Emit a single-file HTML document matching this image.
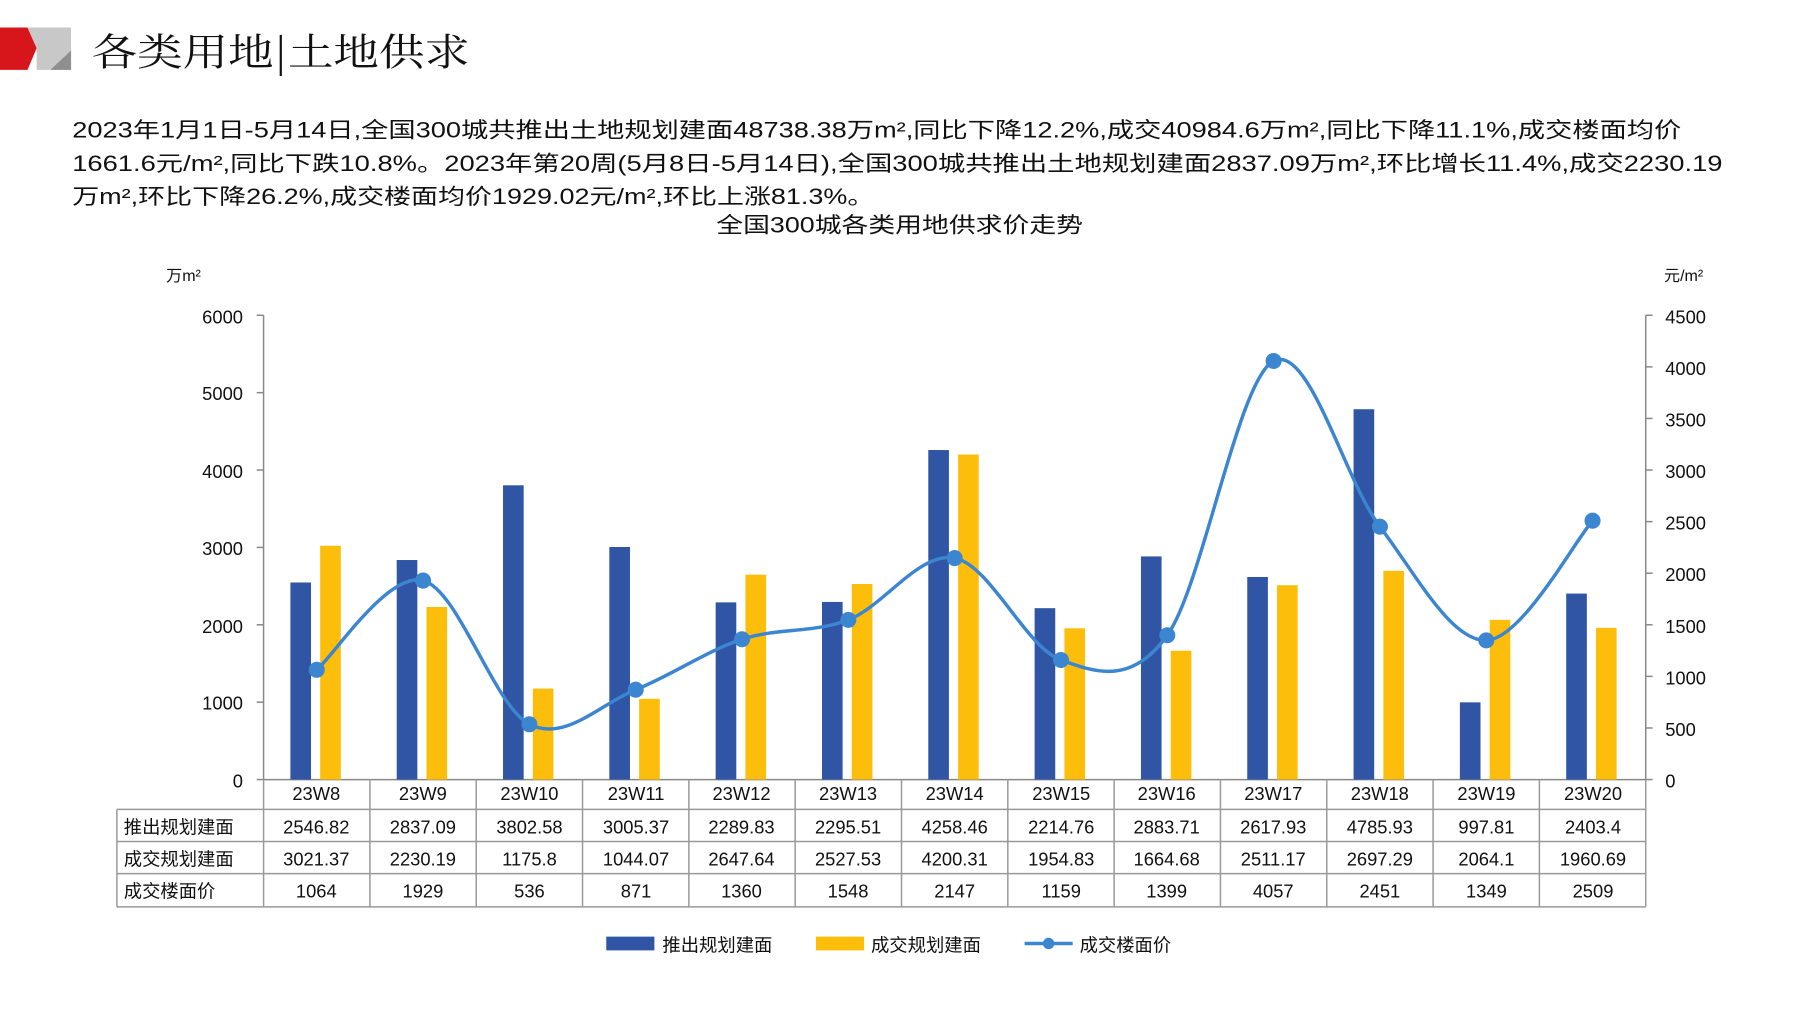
<!DOCTYPE html>
<html><head><meta charset="utf-8">
<style>
html,body{margin:0;padding:0;background:#fff;}
svg{display:block;}
text{font-family:"Liberation Sans","Noto Sans CJK SC",sans-serif;fill:#111;}
.cjk{font-family:"Noto Serif CJK SC","Noto Sans CJK SC",serif;}
</style></head>
<body>
<svg id="s" width="1797" height="1010" viewBox="0 0 1568 881" preserveAspectRatio="none" xmlns="http://www.w3.org/2000/svg">
<!-- header -->
<polygon points="0,24 24,24 32,42 24,61 0,61" fill="#d7161b"/>
<polygon points="24,24 62,24 62,61 32,61 32,42" fill="#c8c8c8"/>
<polygon points="44,61 62,44 62,61" fill="#8f8f8f"/>
<text x="80" y="57" class="cjk" font-size="33" textLength="330" lengthAdjust="spacingAndGlyphs">各类用地|土地供求</text>
<!-- paragraph -->
<g font-size="19">
<text x="63" y="120" textLength="1404" lengthAdjust="spacingAndGlyphs">2023年1月1日-5月14日,全国300城共推出土地规划建面48738.38万m²,同比下降12.2%,成交40984.6万m²,同比下降11.1%,成交楼面均价</text>
<text x="63" y="149" textLength="1440" lengthAdjust="spacingAndGlyphs">1661.6元/m²,同比下跌10.8%。2023年第20周(5月8日-5月14日),全国300城共推出土地规划建面2837.09万m²,环比增长11.4%,成交2230.19</text>
<text x="63" y="178" textLength="700" lengthAdjust="spacingAndGlyphs">万m²,环比下降26.2%,成交楼面均价1929.02元/m²,环比上涨81.3%。</text>
</g>
<text x="785" y="203" font-size="19" text-anchor="middle" textLength="320" lengthAdjust="spacingAndGlyphs">全国300城各类用地供求价走势</text>
<text x="145" y="245" font-size="14">万m²</text>
<text x="1452" y="245" font-size="14">元/m²</text>
<!-- axes -->
<g stroke="#888" stroke-width="1.3">
<line x1="230" y1="275" x2="230" y2="680"/>
<line x1="1436" y1="275" x2="1436" y2="680"/>
<line x1="230" y1="680" x2="1436" y2="680"/>
</g>
<g id="ticks" stroke="#888" stroke-width="1.3"></g>
<g font-size="16" text-anchor="end">
<text x="212" y="282">6000</text><text x="212" y="349">5000</text><text x="212" y="417">4000</text>
<text x="212" y="484">3000</text><text x="212" y="552">2000</text><text x="212" y="619">1000</text><text x="212" y="687">0</text>
</g>
<g font-size="16">
<text x="1453" y="282">4500</text><text x="1453" y="327">4000</text><text x="1453" y="372">3500</text>
<text x="1453" y="417">3000</text><text x="1453" y="462">2500</text><text x="1453" y="507">2000</text>
<text x="1453" y="552">1500</text><text x="1453" y="597">1000</text><text x="1453" y="642">500</text><text x="1453" y="687">0</text>
</g>
<g id="bars"></g>
<path id="line" fill="none" stroke="#3c85d0" stroke-width="3"/>
<g id="dots"></g>
<!-- table -->
<g id="grid" stroke="#999" stroke-width="1.3" fill="none"></g>
<g font-size="16" text-anchor="middle">
<text x="276" y="698">23W8</text><text x="369" y="698">23W9</text><text x="462" y="698">23W10</text><text x="555" y="698">23W11</text><text x="647" y="698">23W12</text><text x="740" y="698">23W13</text><text x="833" y="698">23W14</text><text x="926" y="698">23W15</text><text x="1018" y="698">23W16</text><text x="1111" y="698">23W17</text><text x="1204" y="698">23W18</text><text x="1297" y="698">23W19</text><text x="1390" y="698">23W20</text>
<text x="276" y="727">2546.82</text><text x="369" y="727">2837.09</text><text x="462" y="727">3802.58</text><text x="555" y="727">3005.37</text><text x="647" y="727">2289.83</text><text x="740" y="727">2295.51</text><text x="833" y="727">4258.46</text><text x="926" y="727">2214.76</text><text x="1018" y="727">2883.71</text><text x="1111" y="727">2617.93</text><text x="1204" y="727">4785.93</text><text x="1297" y="727">997.81</text><text x="1390" y="727">2403.4</text>
<text x="276" y="755">3021.37</text><text x="369" y="755">2230.19</text><text x="462" y="755">1175.8</text><text x="555" y="755">1044.07</text><text x="647" y="755">2647.64</text><text x="740" y="755">2527.53</text><text x="833" y="755">4200.31</text><text x="926" y="755">1954.83</text><text x="1018" y="755">1664.68</text><text x="1111" y="755">2511.17</text><text x="1204" y="755">2697.29</text><text x="1297" y="755">2064.1</text><text x="1390" y="755">1960.69</text>
<text x="276" y="783">1064</text><text x="369" y="783">1929</text><text x="462" y="783">536</text><text x="555" y="783">871</text><text x="647" y="783">1360</text><text x="740" y="783">1548</text><text x="833" y="783">2147</text><text x="926" y="783">1159</text><text x="1018" y="783">1399</text><text x="1111" y="783">4057</text><text x="1204" y="783">2451</text><text x="1297" y="783">1349</text><text x="1390" y="783">2509</text>
</g>
<g font-size="16">
<text x="108" y="727">推出规划建面</text>
<text x="108" y="755">成交规划建面</text>
<text x="108" y="783">成交楼面价</text>
</g>
<!-- legend -->
<rect x="529" y="817" width="42" height="12" fill="#2f55a4"/>
<text x="578" y="830" font-size="16">推出规划建面</text>
<rect x="712" y="817" width="42" height="12" fill="#fcbe0a"/>
<text x="760" y="830" font-size="16">成交规划建面</text>
<line x1="894" y1="823" x2="936" y2="823" stroke="#3c85d0" stroke-width="3"/>
<circle cx="915" cy="823" r="5" fill="#3c85d0"/>
<text x="942" y="830" font-size="16">成交楼面价</text>
</svg>
<script>
(function(){
var NS="http://www.w3.org/2000/svg";
function el(t,a,p){var e=document.createElementNS(NS,t);for(var k in a)e.setAttribute(k,a[k]);document.getElementById(p).appendChild(e);}
var A=[2546.82,2837.09,3802.58,3005.37,2289.83,2295.51,4258.46,2214.76,2883.71,2617.93,4785.93,997.81,2403.4];
var B=[3021.37,2230.19,1175.8,1044.07,2647.64,2527.53,4200.31,1954.83,1664.68,2511.17,2697.29,2064.1,1960.69];
var P=[1064,1929,536,871,1360,1548,2147,1159,1399,4057,2451,1349,2509];
var w=(1436-230)/13,pts=[];
for(var i=0;i<13;i++){
 var c=230+w*(i+0.5);
 var h=A[i]*405/6000;el("rect",{x:c-23,y:680-h,width:18,height:h,fill:"#2f55a4"},"bars");
 h=B[i]*405/6000;el("rect",{x:c+3,y:680-h,width:18,height:h,fill:"#fcbe0a"},"bars");
 pts.push([c,680-P[i]*405/4500]);
}
for(var j=0;j<=6;j++){var y=680-j*67.5;el("line",{x1:224,y1:y,x2:230,y2:y},"ticks");}
for(j=0;j<=9;j++){var y=680-j*45;el("line",{x1:1436,y1:y,x2:1442,y2:y},"ticks");}
var d="M"+pts[0][0]+","+pts[0][1];
for(i=0;i<12;i++){
 var p0=pts[Math.max(i-1,0)],p1=pts[i],p2=pts[i+1],p3=pts[Math.min(i+2,12)];
 var t=1/6;
 d+=" C"+(p1[0]+(p2[0]-p0[0])*t)+","+(p1[1]+(p2[1]-p0[1])*t)+" "+(p2[0]-(p3[0]-p1[0])*t)+","+(p2[1]-(p3[1]-p1[1])*t)+" "+p2[0]+","+p2[1];
}
document.getElementById("line").setAttribute("d",d);
pts.forEach(function(p){el("circle",{cx:p[0],cy:p[1],r:7,fill:"#3c85d0"},"dots");});
// grid
[706,734,762,791].forEach(function(y){el("line",{x1:102,y1:y,x2:1436,y2:y},"grid");});
el("line",{x1:102,y1:706,x2:102,y2:791},"grid");
for(i=0;i<=13;i++){var x=230+w*i;el("line",{x1:x,y1:680,x2:x,y2:791},"grid");}
})();
</script>
</body></html>
